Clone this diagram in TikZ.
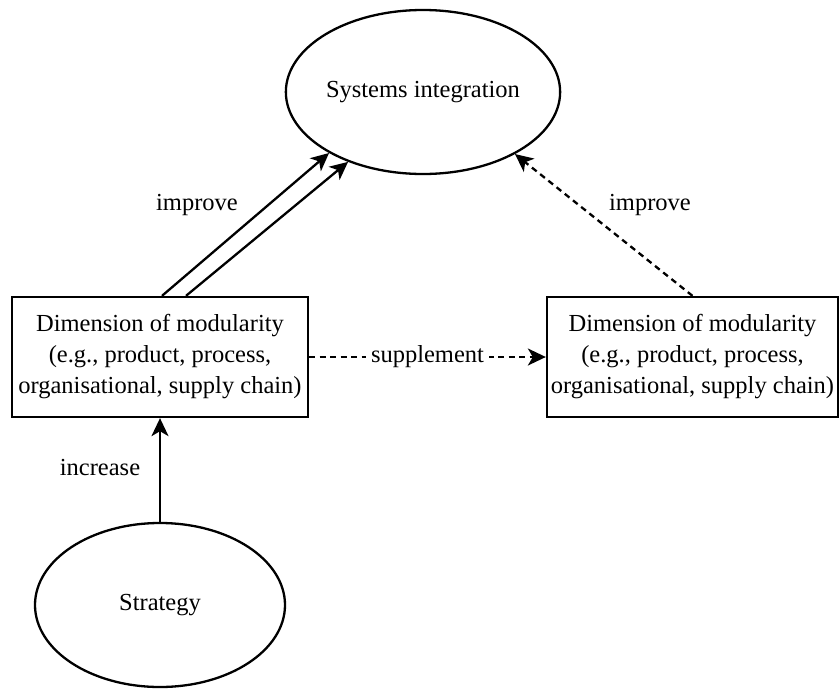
\documentclass[tikz,border=0pt]{standalone}
\usepackage{fontspec}
\setmainfont{Liberation Serif}
\usetikzlibrary{shapes.geometric,arrows.meta,calc}
\begin{document}
\begin{tikzpicture}[x=1pt,y=-1pt,
  every node/.style={font=\fontsize{24.5}{31}\selectfont},
  oval/.style={draw,ellipse,line width=2.3pt,inner sep=0pt,minimum width=250pt,minimum height=164pt},
  dimbox/.style={draw,rectangle,line width=2.3pt,inner sep=0pt,align=center},
  conn/.style={line width=2.3pt,-{Stealth[length=18pt,width=17pt,inset=5pt]}},
  dconn/.style={conn,dash pattern=on 6pt off 4.5pt},
  lbl/.style={inner sep=0pt}
]
\useasboundingbox (0,0) rectangle (839,689);
\node[oval] (S) at (423,92) {Systems integration};
\node[oval] (T) at (160,605) {Strategy};
\node[dimbox,minimum width=296pt,minimum height=120pt] (L) at (160,357) {Dimension of modularity\\(e.g., product, process,\\organisational, supply chain)};
\node[dimbox,minimum width=291pt,minimum height=120pt] (R) at (692.5,357) {Dimension of modularity\\(e.g., product, process,\\organisational, supply chain)};
\draw[conn] ($(L.north)+(2,0)$) -- (S.213.8);
\draw[conn] ($(L.north)+(26,0)$) -- (S.223.3);
\draw[dconn] (R.north) -- (S.326.5);
\draw[conn] (T.north) -- (L.south);
\draw[dconn] (L.east) -- node[fill=white,inner ysep=0pt,inner xsep=5pt] (sup) {supplement} (R.west);
\node[lbl] (i1) at (197,205) {improve};
\node[lbl] (i2) at (650,205) {improve};
\node[lbl] (inc) at (100,468) {increase};
\end{tikzpicture}
\end{document}
